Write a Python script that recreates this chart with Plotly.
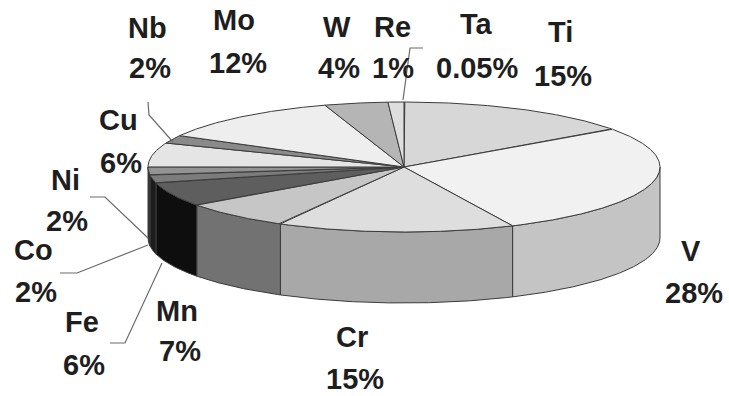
import numpy as np
import plotly.graph_objects as go

# Composition of the alloy, in percent, listed clockwise from the top of the pie
elements = ["Ta", "Ti", "V", "Cr", "Mn", "Fe", "Co", "Ni", "Cu", "Nb", "Mo", "W", "Re"]
shares = [0.05, 15, 28, 15, 7, 6, 2, 2, 6, 2, 12, 4, 1]

# Grey shades for the top face and the outer wall of each slice
top_colors = {
    "Ta": "#f2f2f2", "Ti": "#d7d7d7", "V": "#f1f1f1", "Cr": "#dedede",
    "Mn": "#c6c6c6", "Fe": "#5e5e5e", "Co": "#7c7c7c", "Ni": "#939393",
    "Cu": "#e5e5e5", "Nb": "#8a8a8a", "Mo": "#eeeeee", "W": "#b5b5b5",
    "Re": "#dedede",
}
side_colors = {
    "Ta": "#c0c0c0", "Ti": "#a8a8a8", "V": "#c4c4c4", "Cr": "#a8a8a8",
    "Mn": "#727272", "Fe": "#0e0e0e", "Co": "#1c1c1c", "Ni": "#333333",
    "Cu": "#b0b0b0", "Nb": "#555555", "Mo": "#bbbbbb", "W": "#888888",
    "Re": "#aaaaaa",
}
EDGE = "#3c3c3c"

# Tilted-disc geometry (plot units = pixels)
CX, CY, RX, RY, DEPTH = 404, 167, 256, 65, 71
START = 90  # first slice starts at 12 o'clock, slices run clockwise

# Label placement: centre of the element name and of the percentage line
label_pos = {
    "Ta": ((476, 24), (477, 68)),
    "Ti": ((560, 32), (563, 76)),
    "V": ((691, 251), (694, 293)),
    "Cr": ((352, 337), (355, 379)),
    "Mn": ((177, 311), (180, 351)),
    "Fe": ((82, 322), (84, 365)),
    "Co": ((33, 250), (36, 292)),
    "Ni": ((65, 180), (67, 221)),
    "Cu": ((118, 120), (121, 163)),
    "Nb": ((147, 28), (150, 68)),
    "Mo": ((234, 20), (238, 63)),
    "W": ((337, 27), (339, 68)),
    "Re": ((392, 27), (393, 68)),
}
# Leader lines joining small slices to their labels
leaders = {
    "Nb": [(148, 102), (149, 115), (173, 142)],
    "Re": [(423, 48), (410, 48), (403, 100)],
    "Ni": [(90, 197), (105, 197), (148, 238)],
    "Co": [(60, 273), (77, 273), (148, 245)],
    "Fe": [(110, 343), (125, 343), (162, 263)],
}


def ellipse(t_deg, dy=0.0):
    t = np.radians(t_deg)
    return CX + RX * np.cos(t), CY - RY * np.sin(t) + dy


total = float(sum(shares))
bounds = []
acc = START
for v in shares:
    span = v / total * 360.0
    bounds.append((acc, acc - span))
    acc -= span

fig = go.Figure()

# Outer walls: only the part of each arc on the front half (-180..0 deg) shows
for name, (t0, t1) in zip(elements, bounds):
    a, b = min(t0, 0.0), max(t1, -180.0)
    if a <= b:
        continue
    ts = np.linspace(a, b, max(4, int((a - b) * 3)))
    xt, yt = ellipse(ts)
    xb, yb = ellipse(ts[::-1], DEPTH)
    fig.add_trace(go.Scatter(
        x=np.r_[xt, xb, xt[:1]], y=np.r_[yt, yb, yt[:1]],
        mode="lines", fill="toself", fillcolor=side_colors[name],
        line=dict(color=EDGE, width=1), hoverinfo="skip",
    ))

# Top faces
for name, (t0, t1) in zip(elements, bounds):
    ts = np.linspace(t0, t1, max(3, int((t0 - t1) * 3)))
    xa, ya = ellipse(ts)
    fig.add_trace(go.Scatter(
        x=np.r_[CX, xa, CX], y=np.r_[CY, ya, CY],
        mode="lines", fill="toself", fillcolor=top_colors[name],
        line=dict(color=EDGE, width=1), hoverinfo="skip",
    ))

# Leader lines
for name, pts in leaders.items():
    xs, ys = zip(*pts)
    fig.add_trace(go.Scatter(
        x=xs, y=ys, mode="lines", line=dict(color="#6a6a6a", width=1.2),
        hoverinfo="skip",
    ))

# Labels: element name above its percentage
font = dict(family="Liberation Sans, Arial, sans-serif", size=29, color="#1e1e1e")
for name, v in zip(elements, shares):
    (nx, ny), (px, py) = label_pos[name]
    for (x, y), text in (((nx, ny), f"<b>{name}</b>"), ((px, py), f"<b>{v:g}%</b>")):
        fig.add_annotation(x=x, y=y, text=text, showarrow=False,
                           xanchor="center", yanchor="middle", font=font)

fig.update_layout(
    width=729, height=396,
    margin=dict(l=0, r=0, t=0, b=0),
    paper_bgcolor="white", plot_bgcolor="white",
    showlegend=False,
    xaxis=dict(range=[0, 729], visible=False, fixedrange=True),
    yaxis=dict(range=[396, 0], visible=False, fixedrange=True),
)

fig.write_html("out.html")
